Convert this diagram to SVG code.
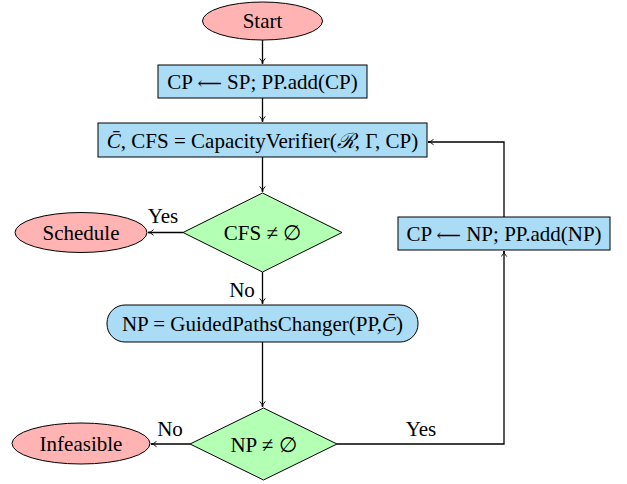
<svg xmlns="http://www.w3.org/2000/svg" width="627" height="484" viewBox="0 0 627 484">
<style>
text{font-family:'Liberation Serif','Times New Roman',serif;font-size:21px;fill:#000;text-anchor:middle}
.term{fill:#ffb3b3;stroke:#000;stroke-width:1}
.proc{fill:#aadcf5;stroke:#000;stroke-width:1}
.dec{fill:#b3ffb3;stroke:#000;stroke-width:1}
.edge{fill:none;stroke:#000;stroke-width:1.3}
.it{font-style:italic}
.ar{font-family:'DejaVu Serif',serif;font-size:17px}
</style>
<defs>
<marker id="arr" viewBox="0 0 10 10" refX="9" refY="5" markerWidth="7" markerHeight="7" orient="auto" markerUnits="userSpaceOnUse">
<path d="M1,1 Q5,5 9,5 Q5,5 1,9" fill="none" stroke="#000" stroke-width="1.3"/>
</marker>
</defs>
<rect width="627" height="484" fill="#fff"/>
<g font-family="Liberation Serif, serif">
<g id="connectors">
<path class="edge" d="M262.5,40 V64" marker-end="url(#arr)"/>
<path class="edge" d="M262.5,98 V122" marker-end="url(#arr)"/>
<path class="edge" d="M262.5,157 V192" marker-end="url(#arr)"/>
<path class="edge" d="M183,232.5 H148" marker-end="url(#arr)"/>
<path class="edge" d="M262.5,272 V304" marker-end="url(#arr)"/>
<path class="edge" d="M262.5,342 V407" marker-end="url(#arr)"/>
<path class="edge" d="M190,444 H151" marker-end="url(#arr)"/>
<path class="edge" d="M337,444 H504 V251" marker-end="url(#arr)"/>
<path class="edge" d="M504,217 V142 H428" marker-end="url(#arr)"/>
<text x="163" y="223">Yes</text>
<text x="242" y="297">No</text>
<text x="170" y="436">No</text>
<text x="421" y="436">Yes</text>
</g>
<g id="start">
<ellipse class="term" cx="262.5" cy="21" rx="60" ry="19"/>
<text x="262.5" y="28">Start</text>
</g>
<g id="init">
<rect class="proc" x="158" y="65" width="209" height="33"/>
<text x="262.5" y="88.5">CP <tspan class="ar">⟵</tspan> SP; PP.add(CP)</text>
</g>
<g id="verify">
<rect class="proc" x="98" y="123" width="329" height="34"/>
<text x="262.5" y="147.5"><tspan class="it">C̄</tspan>, CFS = CapacityVerifier(<tspan class="it">ℛ</tspan>, Γ, CP)</text>
</g>
<g id="cfs">
<polygon class="dec" points="262.5,193 342,232.5 262.5,272 183,232.5"/>
<text x="262.5" y="240">CFS ≠ ∅</text>
</g>
<g id="schedule">
<ellipse class="term" cx="81" cy="232.5" rx="66" ry="20"/>
<text x="81" y="240">Schedule</text>
</g>
<g id="changer">
<rect class="proc" x="107" y="305" width="311" height="37" rx="18" ry="18"/>
<text x="262.5" y="330.5">NP = GuidedPathsChanger(PP,<tspan class="it">C̄</tspan>)</text>
</g>
<g id="np">
<polygon class="dec" points="263.5,408 337,444 263.5,480 190,444"/>
<text x="263.5" y="451.5">NP ≠ ∅</text>
</g>
<g id="infeasible">
<ellipse class="term" cx="81" cy="443.5" rx="69" ry="20.5"/>
<text x="81" y="451">Infeasible</text>
</g>
<g id="update">
<rect class="proc" x="398" y="217" width="212" height="33"/>
<text x="504" y="240.5">CP <tspan class="ar">⟵</tspan> NP; PP.add(NP)</text>
</g>
</g>
</svg>
